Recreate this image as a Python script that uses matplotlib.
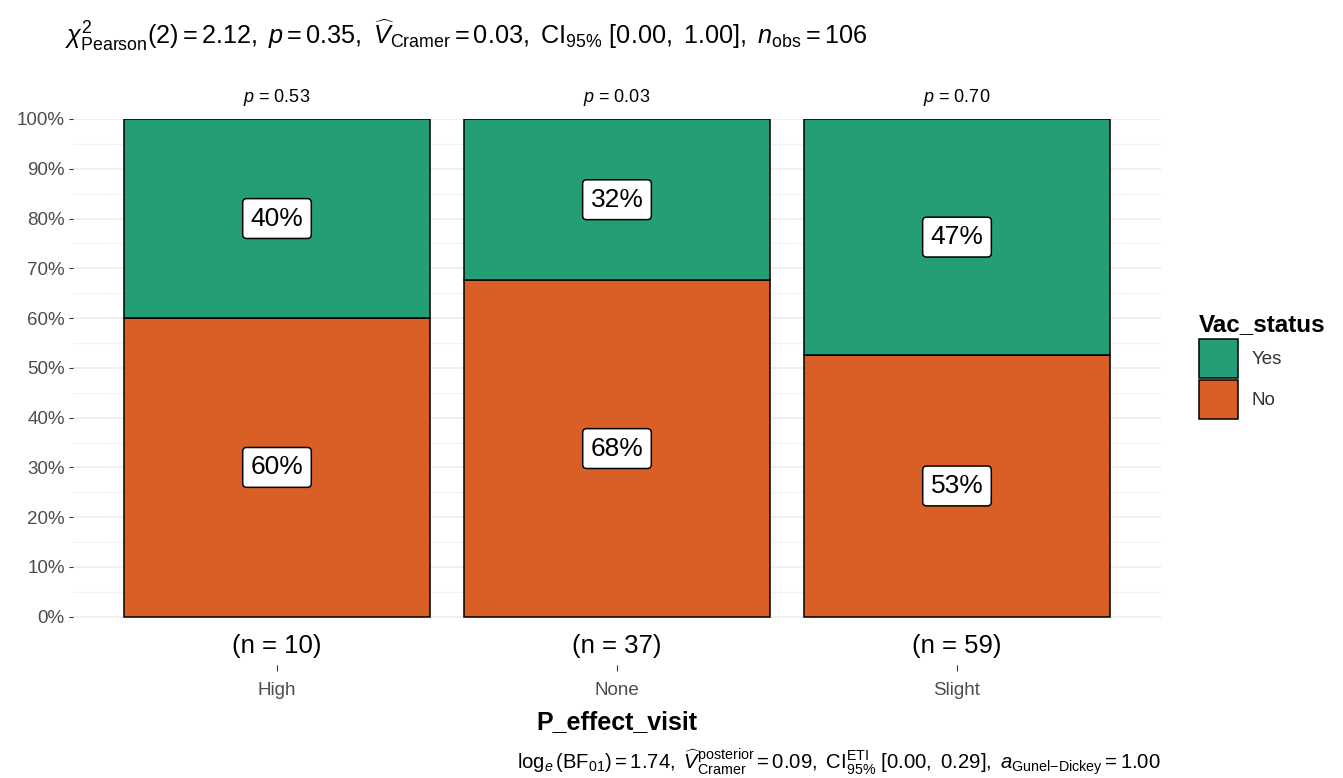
import matplotlib
matplotlib.use("Agg")
import matplotlib.pyplot as plt
from matplotlib.patches import Patch
import numpy as np

# ---- data ----
categories = ["High", "None", "Slight"]
count_no = [6, 25, 31]
count_yes = [4, 12, 28]
p_values = ["0.53", "0.03", "0.70"]
legend_labels = ["Yes", "No"]
colors = {"Yes": "#239E77", "No": "#D95F27"}
y_ticks = [0, 0.1, 0.2, 0.3, 0.4, 0.5, 0.6, 0.7, 0.8, 0.9, 1.0]
y_ticklabels = ["0%", "10%", "20%", "30%", "40%", "50%", "60%", "70%", "80%", "90%", "100%"]
subtitle = (r"$\chi^{2}_{\mathrm{Pearson}}(2) = 2.12,\ \mathit{p} = 0.35,\ "
            r"\widehat{V}_{\mathrm{Cramer}} = 0.03,\ \mathrm{CI}_{95\%}\ [0.00,\ 1.00],\ "
            r"\mathit{n}_{\mathrm{obs}} = 106$")
caption = (r"$\log_{e}(\mathrm{BF}_{01}) = 1.74,\ \widehat{V}^{\mathrm{posterior}}_{\mathrm{Cramer}} = 0.09,\ "
           r"\mathrm{CI}^{\mathrm{ETI}}_{95\%}\ [0.00,\ 0.29],\ \mathit{a}_{\mathrm{Gunel\!-\!Dickey}} = 1.00$")

plt.rcParams["font.family"] = ["Liberation Sans", "DejaVu Sans"]
plt.rcParams["mathtext.fontset"] = "custom"
plt.rcParams["mathtext.rm"] = "Liberation Sans"
plt.rcParams["mathtext.it"] = "Liberation Sans:italic"
plt.rcParams["mathtext.bf"] = "Liberation Sans:bold"

W, H = 1343, 778
fig = plt.figure(figsize=(W / 100, H / 100), dpi=100)
left, right, top, bottom = 73, 1161, 119, 665
ax = fig.add_axes([left / W, 1 - bottom / H, (right - left) / W, (bottom - top) / H])

x = np.arange(1, len(categories) + 1)
n = np.array(count_no) + np.array(count_yes)
frac_no = np.array(count_no) / n
frac_yes = np.array(count_yes) / n

ax.bar(x, frac_no, width=0.9, color=colors["No"], edgecolor="black", linewidth=1.1, zorder=3)
ax.bar(x, frac_yes, bottom=frac_no, width=0.9, color=colors["Yes"], edgecolor="black", linewidth=1.1, zorder=3)

ax.set_xlim(0.4, len(categories) + 0.6)
ax.set_ylim(-0.097, 1.0)

# gridlines
for yv in np.arange(0, 1.001, 0.1):
    ax.axhline(yv, color="#EBEBEB", linewidth=1.1, zorder=0)
for yv in np.arange(0.05, 1.0, 0.1):
    ax.axhline(yv, color="#F2F2F2", linewidth=0.8, zorder=0)

for s in ax.spines.values():
    s.set_visible(False)

ax.set_yticks(y_ticks)
ax.set_yticklabels(y_ticklabels)
ax.set_xticks(x)
ax.set_xticklabels(categories)
ax.tick_params(axis="y", length=3, width=0.8, color="#333333", labelsize=13.5, labelcolor="#4D4D4D", pad=3)
ax.tick_params(axis="x", length=4, width=0.8, color="#333333", labelsize=13.5, labelcolor="#4D4D4D", pad=8)

box = dict(boxstyle="round,pad=0.3,rounding_size=0.15", facecolor="white", edgecolor="black", linewidth=1.1)
for xi, fn, fy in zip(x, frac_no, frac_yes):
    ax.text(xi, fn / 2, f"{round(fn * 100):.0f}%", ha="center", va="center", fontsize=19, bbox=box, zorder=5)
    ax.text(xi, fn + fy / 2, f"{round(fy * 100):.0f}%", ha="center", va="center", fontsize=19, bbox=box, zorder=5)

for xi, pv, ni in zip(x, p_values, n):
    ax.text(xi, 1.044, r"$\mathit{p}$ = " + pv, ha="center", va="center", fontsize=13, clip_on=False)
    ax.text(xi, -0.058, f"(n = {ni})", ha="center", va="center", fontsize=18.5, clip_on=False)

ax.set_xlabel("P_effect_visit", fontsize=18, fontweight="bold", labelpad=8)

handles = [Patch(facecolor=colors[l], edgecolor="black", linewidth=1.1) for l in legend_labels]
leg = fig.legend(handles, legend_labels, title="Vac_status", loc="center left",
                 bbox_to_anchor=(1199 / W, 1 - 366 / H), frameon=False,
                 fontsize=13.5, title_fontproperties={"weight": "bold", "size": 17.5},
                 handlelength=2.1, handleheight=2.8, labelspacing=0.15, handletextpad=0.7,
                 borderpad=0, borderaxespad=0, alignment="left")
for t in leg.get_texts():
    t.set_color("#333333")

fig.text(65 / W, 1 - 35 / H, subtitle, ha="left", va="center", fontsize=18.2)
fig.text(1161 / W, 1 - 762 / H, caption, ha="right", va="center", fontsize=14.6)

fig.savefig("out.png", dpi=100, facecolor="white")
